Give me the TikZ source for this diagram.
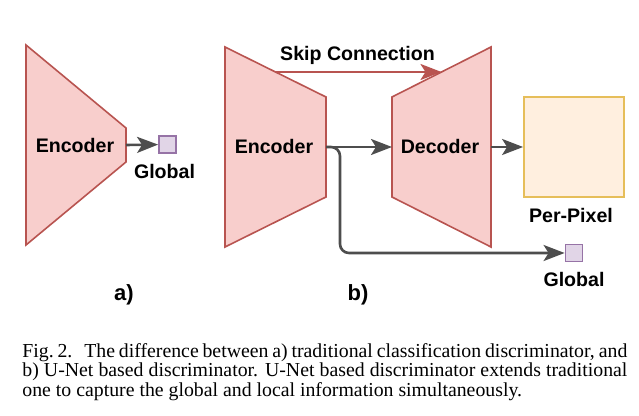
\documentclass[tikz,border=0pt]{standalone}
\usepackage{fontspec}
\setmainfont{Liberation Serif}
\setsansfont{Liberation Sans}
\usepackage{xcolor}
\usepackage{tikz}
\usetikzlibrary{positioning,arrows.meta}
\definecolor{encfill}{HTML}{F8CECC}
\definecolor{encline}{HTML}{B85450}
\definecolor{globfill}{HTML}{E1D5E7}
\definecolor{globline}{HTML}{9673A6}
\definecolor{pixfill}{HTML}{FFEFDF}
\definecolor{pixline}{HTML}{E6BE5A}
\definecolor{arrowgray}{HTML}{4D4D4D}

\begin{document}
\begin{tikzpicture}[
x=0.5pt, y=-0.5pt,
every node/.style={
font=\sffamily\bfseries\fontsize{9.8}{11}\selectfont,
inner sep=1pt
},
block/.style={draw=encline,fill=encfill,line width=0.8pt},
glob/.style={draw=globline,fill=globfill,line width=0.9pt,
minimum size=8.5pt,inner sep=0pt},
pixel/.style={draw=pixline,fill=pixfill,line width=0.9pt,
minimum size=50pt,inner sep=0pt},
arrow/.style={-{Stealth[length=10.5pt,width=8pt,inset=2.5pt]},
line width=1.3pt,draw=arrowgray},
skip/.style={arrow,draw=encline},
sub/.style={font=\sffamily\bfseries\fontsize{11}{13}\selectfont},
caption/.style={font=\rmfamily\mdseries\fontsize{9.9}{9.75}\selectfont,
text width=302.5pt,align=justify,inner sep=0pt,anchor=north west}
]

\useasboundingbox (0,0) rectangle (639,416);

% a) plain discriminator
\draw[block] (26,45) -- (126,128) -- (126,162) -- (26,245) -- cycle;
\coordinate (encA-out) at (126,145);
\node (encA) at (75,146) {Encoder};
\node[glob] (globA) at (167.5,144.5) {};
\node (globAtext) [below=4pt of globA,xshift=-1.5pt] {Global};
\node[sub] (labA) at (124,295) {a)};

\draw[arrow] (encA-out) -- (globA);

% b) U-Net discriminator
\draw[block] (225,47) -- (326,97) -- (326,197) -- (225,247) -- cycle;
\draw[block] (392,97) -- (491,47) -- (491,247) -- (392,197) -- cycle;
\coordinate (encB-out) at (326,147);
\coordinate (encB-top) at (275.5,72);
\coordinate (decB-in) at (392,147);
\coordinate (decB-out) at (491,147);
\coordinate (decB-top) at (441.5,72);

\node (encB) at (274,147) {Encoder};
\node (decB) at (440,147) {Decoder};
\node (skiptext) at (357.5,55.5) {Skip Connection};
\node[pixel] (pix) at (574,147) {};
\node (pixtext) [below=4pt of pix,xshift=-1.5pt] {Per-Pixel};
\node[glob] (globB) at (574,253) {};
\node (globBtext) [below=4pt of globB] {Global};
\node[sub] (labB) at (358,295) {b)};

\draw[skip] (encB-top) -- (decB-top);
\draw[arrow] (encB-out) -- (decB-in);
\draw[arrow] (decB-out) -- (pix);
\draw[arrow,rounded corners=4.5pt] (encB-out) -- ++(14,0) |- (globB);

\node[caption] (cap) at (22,343) {Fig.~2.\hspace{0.6em}The difference between a) traditional classification discriminator, and\linebreak b) U-Net based discriminator. U-Net based discriminator extends traditional\linebreak one to capture the global and local information simultaneously.};

\end{tikzpicture}
\end{document}
